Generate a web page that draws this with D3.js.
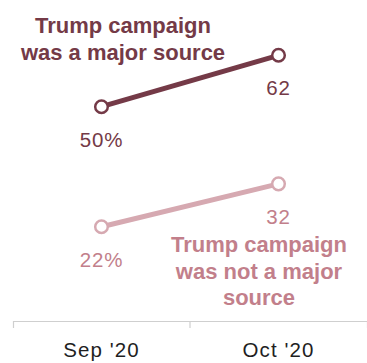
<!DOCTYPE html>
<html>
<head>
<meta charset="utf-8">
<script src="https://cdn.jsdelivr.net/npm/d3@7"></script>
<style>
  html, body { margin: 0; padding: 0; background: #fff; }
  svg { display: block; }
</style>
</head>
<body>
<svg id="chart" width="367" height="363"></svg>
<script>
// Survey waves along the x axis
const waves = ["Sep '20", "Oct '20"];
// Share (%) for each group, by wave
const majorSource = [50, 62];
const notMajorSource = [22, 32];
// Text of the series labels, one entry per line
const majorLabel = ["Trump campaign", "was a major source"];
const notMajorLabel = ["Trump campaign", "was not a major", "source"];

const W = 367, H = 363;
const svg = d3.select("#chart");

const x = d3.scaleBand().domain(waves).range([13, 367]).padding(0);
const y = d3.scaleLinear().domain([0, 70]).range([321, 21]);

const FONT = "'Liberation Sans', Arial, sans-serif";
const DARK = "#743a47";
const LIGHT_LINE = "#d6a9b1";
const LIGHT_TEXT = "#c27f8b";

// Axis: domain line with boundary ticks at both ends, labels centred in bands
const axis = d3.axisBottom(x).tickSizeInner(0).tickSizeOuter(7).tickPadding(0);
const gx = svg.append("g").attr("transform", `translate(0,${y(0)})`).call(axis);
gx.select(".domain").attr("stroke", "#cfcfcf").attr("stroke-width", 1.2);
gx.selectAll(".tick text")
  .attr("font-family", FONT)
  .attr("font-size", 20.5)
  .attr("letter-spacing", 1.1)
  .attr("fill", "#1f1f1f")
  .attr("dy", null)
  .attr("y", 35.5);
// Divider tick between the two waves
gx.append("g").selectAll("line")
  .data(waves.slice(1))
  .join("line")
  .attr("x1", d => x(d)).attr("x2", d => x(d))
  .attr("y1", 0).attr("y2", 7)
  .attr("stroke", "#cfcfcf").attr("stroke-width", 1.2);

const cx = d => x(d) + x.bandwidth() / 2;

function drawSeries(values, lineColor, textColor, fmt) {
  const pts = waves.map((w, i) => ({ w, v: values[i], i }));
  svg.append("path")
    .datum(pts)
    .attr("fill", "none")
    .attr("stroke", lineColor)
    .attr("stroke-width", 5)
    .attr("d", d3.line().x(d => cx(d.w)).y(d => y(d.v)));
  svg.append("g").selectAll("circle")
    .data(pts)
    .join("circle")
    .attr("cx", d => cx(d.w))
    .attr("cy", d => y(d.v))
    .attr("r", 6.3)
    .attr("fill", "#fff")
    .attr("stroke", lineColor)
    .attr("stroke-width", 2.5);
  svg.append("g").selectAll("text")
    .data(pts)
    .join("text")
    .attr("x", d => cx(d.w))
    .attr("y", d => y(d.v) + 40)
    .attr("text-anchor", "middle")
    .attr("font-family", FONT)
    .attr("font-size", 20.5)
    .attr("letter-spacing", 0.8)
    .attr("fill", textColor)
    .text(d => fmt(d));
}

drawSeries(majorSource, DARK, DARK, d => d.i === 0 ? d.v + "%" : d.v);
drawSeries(notMajorSource, LIGHT_LINE, LIGHT_TEXT, d => d.i === 0 ? d.v + "%" : d.v);

function drawLabel(lines, cxPos, firstBaseline, color) {
  svg.append("text")
    .attr("text-anchor", "middle")
    .attr("font-family", FONT)
    .attr("font-weight", "bold")
    .attr("font-size", 22)
    .attr("fill", color)
    .selectAll("tspan")
    .data(lines)
    .join("tspan")
    .attr("x", cxPos)
    .attr("y", (d, i) => firstBaseline + i * 26.8)
    .text(d => d);
}

drawLabel(majorLabel, 123, 33.3, DARK);
drawLabel(notMajorLabel, 259, 251.7, LIGHT_TEXT);
</script>
</body>
</html>
